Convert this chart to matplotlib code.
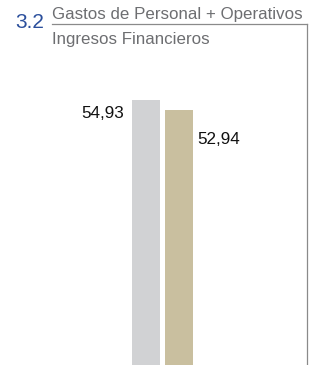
import matplotlib.pyplot as plt

plt.rcParams['font.family'] = ['Liberation Sans', 'DejaVu Sans']

# data
series = ['Gastos de Personal + Operativos', 'Ingresos Financieros']
values = [54.93, 52.94]
labels = ['54,93', '52,94']
colors = ['#d1d2d4', '#c9bf9f']

W, H = 311, 365
fig = plt.figure(figsize=(W / 100, H / 100), dpi=100)
ax = fig.add_axes([0, 0, 1, 1])

x = [0, 1]
ax.bar(x, values, width=0.85, color=colors)
ax.set_xlim(-4.42, 5.0)
ax.set_ylim(0, 75.66)
ax.axis('off')

# value labels: first on the left near top, second on the right lower down
ax.text(x[0] - 0.65, values[0] - 2.7, labels[0], ha='right', va='center',
        fontsize=12.3, color='#111111')
ax.text(x[1] + 0.55, values[1] - 6.2, labels[1], ha='left', va='center',
        fontsize=12.3, color='#111111')

# header: number + fraction style title
fig.text(15 / W, 1 - 28.5 / H, '3.2', fontsize=15, color='#2b4f9c', va='baseline')
fig.text(52 / W, 1 - 18.5 / H, series[0], fontsize=12.2, color='#6d6e71', va='baseline')
fig.text(52 / W, 1 - 44 / H, series[1], fontsize=12.2, color='#6d6e71', va='baseline')

line_y = 1 - 24 / H
fig.add_artist(plt.Line2D([52 / W, 307 / W], [line_y, line_y], color='#8a8a8a', lw=0.9))
fig.add_artist(plt.Line2D([307 / W, 307 / W], [line_y, 0], color='#8a8a8a', lw=0.9))

fig.savefig('out.png', dpi=100)
